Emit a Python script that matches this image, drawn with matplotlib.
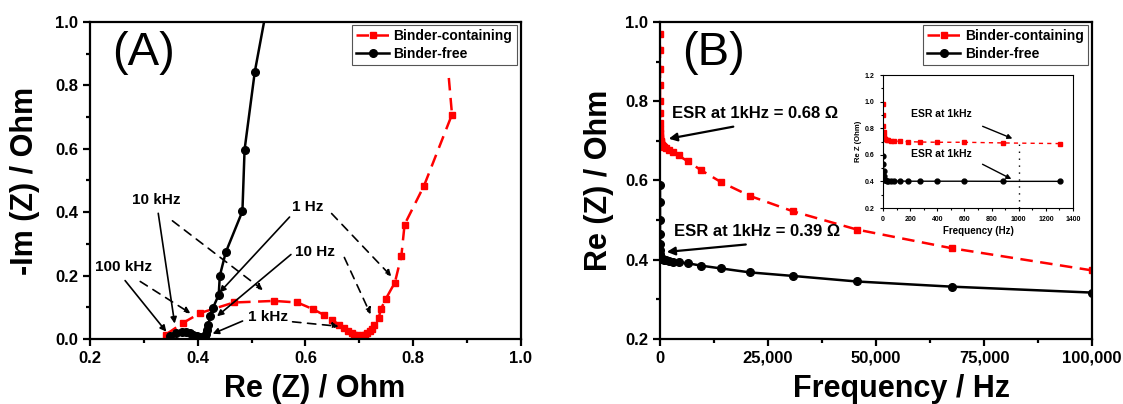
"""Impedance comparison: Nyquist plot (A) and Re(Z) vs frequency (B)."""

import matplotlib
matplotlib.use("Agg")
import matplotlib.pyplot as plt
from matplotlib.ticker import MultipleLocator, FuncFormatter

plt.rcParams["font.family"] = ["Liberation Sans", "DejaVu Sans"]
plt.rcParams["font.weight"] = "bold"

RED = "#ff0000"

# Panel A: Nyquist data
re_a_red = [0.341, 0.372, 0.405, 0.467, 0.542, 0.585, 0.614, 0.634, 0.649, 0.662,
            0.672, 0.679, 0.686, 0.691, 0.696, 0.701, 0.706, 0.711, 0.715, 0.719,
            0.723, 0.728, 0.736, 0.740, 0.749, 0.766, 0.778, 0.784, 0.820, 0.872, 0.865]
im_a_red = [0.014, 0.050, 0.082, 0.115, 0.120, 0.115, 0.094, 0.076, 0.061, 0.045,
            0.035, 0.026, 0.019, 0.014, 0.011, 0.010, 0.011, 0.014, 0.018, 0.024,
            0.032, 0.045, 0.066, 0.094, 0.126, 0.178, 0.262, 0.361, 0.483, 0.708, 0.845]
re_a_blk = [0.349, 0.360, 0.370, 0.378, 0.385, 0.392, 0.398, 0.404, 0.409, 0.413,
            0.416, 0.418, 0.420, 0.423, 0.428, 0.439, 0.441, 0.452, 0.483, 0.487,
            0.506, 0.545]
im_a_blk = [0.008, 0.018, 0.022, 0.021, 0.018, 0.014, 0.010, 0.007, 0.006, 0.008,
            0.015, 0.027, 0.045, 0.073, 0.097, 0.139, 0.199, 0.273, 0.403, 0.597,
            0.843, 1.2]

# frequency labels in panel A
freq_labels = ["10 kHz", "100 kHz", "1 Hz", "10 Hz", "1 kHz"]
freq_label_xy = [(0.3225, 0.438), (0.263, 0.227), (0.605, 0.416), (0.618, 0.274), (0.530, 0.069)]
solid_arrows = [(0.262, 0.191, 0.345, 0.016), (0.326, 0.405, 0.358, 0.040),
                (0.574, 0.391, 0.437, 0.140), (0.577, 0.272, 0.432, 0.066),
                (0.488, 0.060, 0.423, 0.013)]
dashed_arrows = [(0.289, 0.186, 0.391, 0.076), (0.349, 0.378, 0.525, 0.149),
                 (0.645, 0.402, 0.763, 0.191), (0.670, 0.265, 0.723, 0.070),
                 (0.571, 0.055, 0.667, 0.039)]

# Panel B: Re(Z) vs frequency
f_red = [100000, 67500, 45600, 30800, 20800, 14100, 9500, 6430, 4340, 2930,
         1980, 1340, 905, 611, 413, 279, 188, 127, 86, 58,
         39, 26, 18, 12, 8, 5.4, 3.7, 2.5, 1.7, 1.1]
re_red = [0.373, 0.429, 0.476, 0.522, 0.561, 0.596, 0.626, 0.648, 0.663, 0.671,
          0.677, 0.682, 0.685, 0.688, 0.690, 0.693, 0.697, 0.700, 0.704, 0.708,
          0.713, 0.72, 0.73, 0.745, 0.77, 0.80, 0.84, 0.88, 0.93, 0.97]
f_blk = [100000, 67500, 45600, 30800, 20800, 14100, 9500, 6430, 4340, 2930,
         1980, 1340, 905, 611, 413, 279, 188, 127, 86, 58,
         39, 26, 18, 12, 8, 5.4, 3.7, 2.5]
re_blk = [0.317, 0.332, 0.345, 0.359, 0.368, 0.378, 0.385, 0.391, 0.393, 0.395,
          0.397, 0.399, 0.400, 0.401, 0.402, 0.402, 0.403, 0.404, 0.405, 0.407,
          0.41, 0.415, 0.425, 0.44, 0.465, 0.50, 0.545, 0.588]

# inset (low-frequency zoom)
ins_f_red = [1302, 881, 600, 401, 269, 181, 122, 83, 56, 38, 26, 17, 12, 8, 5.3, 3.6, 2.4, 1.6, 1.1]
ins_re_red = [0.685, 0.690, 0.695, 0.695, 0.697, 0.700, 0.702, 0.705, 0.707, 0.710,
              0.713, 0.717, 0.722, 0.730, 0.745, 0.775, 0.82, 0.90, 0.98]
ins_f_blk = [1302, 881, 600, 401, 269, 181, 122, 83, 56, 38, 26, 17, 12, 8, 5.3, 3.6, 2.4, 1.6]
ins_re_blk = [0.401, 0.401, 0.402, 0.402, 0.402, 0.402, 0.403, 0.403, 0.404, 0.405,
              0.406, 0.408, 0.412, 0.42, 0.44, 0.48, 0.53, 0.59]


def style_axes(ax, lw=1.6, major=5, minor=3, size=12):
    for sp in ax.spines.values():
        sp.set_linewidth(lw)
    ax.tick_params(which="both", direction="out", top=False, right=False, width=lw,
                   labelsize=size)
    ax.tick_params(which="major", length=major)
    ax.tick_params(which="minor", length=minor)
    for lab in ax.get_xticklabels() + ax.get_yticklabels():
        lab.set_fontweight("bold")


def add_legend(ax):
    leg = ax.legend(loc="upper right", bbox_to_anchor=(0.99, 0.99), borderaxespad=0,
                    fontsize=10, handlelength=2.4, handletextpad=0.3, labelspacing=0.25,
                    borderpad=0.3, fancybox=False, framealpha=1, numpoints=1)
    leg.get_frame().set_edgecolor("#555555")
    leg.get_frame().set_linewidth(0.8)
    for t in leg.get_texts():
        t.set_fontweight("bold")


fig = plt.figure(figsize=(11.23, 4.04), dpi=100)
axA = fig.add_axes([0.0801, 0.161, 0.3838, 0.7847])
axB = fig.add_axes([0.5877, 0.161, 0.3847, 0.7847])

# ---- Panel A
axA.plot(re_a_red, im_a_red, color=RED, lw=1.8, ls=(0, (5, 3)), marker="s", ms=5,
         markevery=list(range(len(re_a_red) - 1)), label="Binder-containing")
axA.plot(re_a_blk, im_a_blk, color="black", lw=1.8, marker="o", ms=5.5,
         label="Binder-free")
for (x0, y0, x1, y1) in solid_arrows:
    axA.annotate("", xy=(x1, y1), xytext=(x0, y0),
                 arrowprops=dict(arrowstyle="-|>", color="black", lw=1.2, mutation_scale=9))
for (x0, y0, x1, y1) in dashed_arrows:
    axA.annotate("", xy=(x1, y1), xytext=(x0, y0),
                 arrowprops=dict(arrowstyle="-|>", color="black", lw=1.2, ls=(0, (5, 4)),
                                 mutation_scale=9))
for txt, (x, y) in zip(freq_labels, freq_label_xy):
    axA.text(x, y, txt, ha="center", va="center", fontsize=11, fontweight="bold")

axA.set_xlim(0.2, 1.0)
axA.set_ylim(0.0, 1.0)
axA.xaxis.set_major_locator(MultipleLocator(0.2))
axA.xaxis.set_minor_locator(MultipleLocator(0.1))
axA.yaxis.set_major_locator(MultipleLocator(0.2))
axA.yaxis.set_minor_locator(MultipleLocator(0.1))
axA.xaxis.set_major_formatter(FuncFormatter(lambda v, p: f"{v:.1f}"))
axA.yaxis.set_major_formatter(FuncFormatter(lambda v, p: f"{v:.1f}"))
style_axes(axA)
axA.set_xlabel("Re (Z) / Ohm", fontsize=22, fontweight="bold")
axA.set_ylabel("-Im (Z) / Ohm", fontsize=22, fontweight="bold")
axA.xaxis.set_label_coords(0.522, -0.11)
axA.yaxis.set_label_coords(-0.115, 0.5)
axA.text(0.125, 0.902, "(A)", transform=axA.transAxes, ha="center", va="center",
         fontsize=34, fontweight="normal")
add_legend(axA)

# ---- Panel B
axB.plot(f_red, re_red, color=RED, lw=1.8, ls=(0, (5, 3)), marker="s", ms=5,
         label="Binder-containing")
axB.plot(f_blk, re_blk, color="black", lw=1.8, marker="o", ms=5.5, label="Binder-free")
axB.set_xlim(0, 100000)
axB.set_ylim(0.2, 1.0)
axB.xaxis.set_major_locator(MultipleLocator(25000))
axB.xaxis.set_minor_locator(MultipleLocator(12500))
axB.yaxis.set_major_locator(MultipleLocator(0.2))
axB.yaxis.set_minor_locator(MultipleLocator(0.1))
axB.xaxis.set_major_formatter(FuncFormatter(lambda v, p: f"{int(v):,}"))
axB.yaxis.set_major_formatter(FuncFormatter(lambda v, p: f"{v:.1f}"))
style_axes(axB)
axB.set_xlabel("Frequency / Hz", fontsize=22, fontweight="bold")
axB.set_ylabel("Re (Z) / Ohm", fontsize=22, fontweight="bold")
axB.xaxis.set_label_coords(0.56, -0.11)
axB.yaxis.set_label_coords(-0.107, 0.5)
axB.text(0.123, 0.902, "(B)", transform=axB.transAxes, ha="center", va="center",
         fontsize=34, fontweight="normal")
axB.annotate("", xy=(1390, 0.704), xytext=(17600, 0.737),
             arrowprops=dict(arrowstyle="-|>", color="black", lw=1.6, mutation_scale=12))
axB.annotate("", xy=(930, 0.419), xytext=(20500, 0.439),
             arrowprops=dict(arrowstyle="-|>", color="black", lw=1.6, mutation_scale=12))
axB.text(2780, 0.770, "ESR at 1kHz = 0.68 Ω", fontsize=12, fontweight="bold", va="center")
axB.text(3240, 0.471, "ESR at 1kHz = 0.39 Ω", fontsize=12, fontweight="bold", va="center")
add_legend(axB)

# ---- inset
axI = fig.add_axes([0.7863, 0.485, 0.1692, 0.329])
axI.plot(ins_f_red, ins_re_red, color=RED, lw=1.0, ls=(0, (3, 3)), marker="s", ms=3.5)
axI.plot(ins_f_blk, ins_re_blk, color="black", lw=1.0, marker="o", ms=3.5)
axI.plot([1000, 1000], [0.2, 0.69], color="black", lw=1.0, ls=(0, (1, 4)))
axI.annotate("", xy=(972, 0.715), xytext=(715, 0.823),
             arrowprops=dict(arrowstyle="-|>", color="black", lw=1.0, mutation_scale=7))
axI.annotate("", xy=(964, 0.409), xytext=(715, 0.539),
             arrowprops=dict(arrowstyle="-|>", color="black", lw=1.0, mutation_scale=7))
axI.text(433, 0.904, "ESR at 1kHz", fontsize=7.5, fontweight="bold", ha="center", va="center")
axI.text(433, 0.61, "ESR at 1kHz", fontsize=7.5, fontweight="bold", ha="center", va="center")
axI.set_xlim(0, 1400)
axI.set_ylim(0.2, 1.2)
axI.xaxis.set_major_locator(MultipleLocator(200))
axI.xaxis.set_minor_locator(MultipleLocator(100))
axI.yaxis.set_major_locator(MultipleLocator(0.2))
axI.yaxis.set_minor_locator(MultipleLocator(0.1))
axI.yaxis.set_major_formatter(FuncFormatter(lambda v, p: f"{v:.1f}"))
style_axes(axI, lw=0.8, major=2.5, minor=1.5, size=5)
axI.set_xlabel("Frequency (Hz)", fontsize=7, fontweight="bold", labelpad=2)
axI.set_ylabel("Re Z (Ohm)", fontsize=5.5, fontweight="bold", labelpad=2)

fig.savefig("out.png", dpi=100)
